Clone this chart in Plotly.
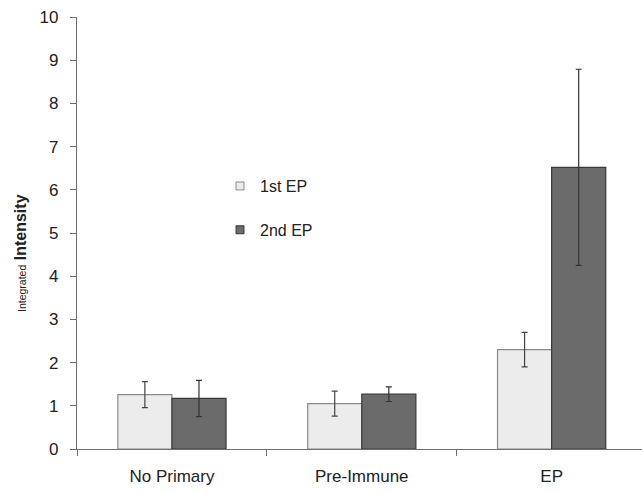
import plotly.graph_objects as go

categories = ["No Primary", "Pre-Immune", "EP"]
first_ep = [1.26, 1.05, 2.30]
first_err = [0.30, 0.29, 0.40]
second_ep = [1.17, 1.27, 6.52]
second_err = [0.42, 0.17, 2.27]
series_names = ["1st EP", "2nd EP"]
y_ticks = [0, 1, 2, 3, 4, 5, 6, 7, 8, 9, 10]

fill = ["#ececec", "#6b6b6b"]
edge = ["#8a8a8a", "#3a3a3a"]

fig = go.Figure()
fig.add_trace(go.Bar(
    x=categories, y=first_ep, name=series_names[0], showlegend=False,
    marker=dict(color=fill[0], line=dict(color=edge[0], width=1.2)),
    error_y=dict(type="data", array=first_err, color="#444444", thickness=1.2, width=3),
))
fig.add_trace(go.Bar(
    x=categories, y=second_ep, name=series_names[1], showlegend=False,
    marker=dict(color=fill[1], line=dict(color=edge[1], width=1.2)),
    error_y=dict(type="data", array=second_err, color="#333333", thickness=1.2, width=3),
))
# legend entries with small square symbols
for i, nm in enumerate(series_names):
    fig.add_trace(go.Scatter(
        x=[None], y=[None], mode="markers", name=nm, legendgroup=nm,
        marker=dict(symbol="square", size=8, color=fill[i], line=dict(color=edge[i], width=1)),
    ))

pw = 642 - 77
ph = 493 - 17 - 44

fig.update_layout(
    width=642, height=493,
    margin=dict(l=77, r=0, t=17, b=44),
    plot_bgcolor="white", paper_bgcolor="white",
    barmode="group", bargap=0.43, bargroupgap=0,
    font=dict(family="Liberation Sans, Arial, sans-serif", color="#222222"),
    showlegend=True,
    legend=dict(x=(220 - 77) / pw, y=0.648, xanchor="left", yanchor="top",
                font=dict(size=16, color="#222222"), tracegroupgap=20,
                bgcolor="rgba(0,0,0,0)", itemwidth=30),
    xaxis=dict(range=[-0.5, 2.476], showline=True, linecolor="#6f6f6f", linewidth=1.3,
               ticks="outside", tickson="boundaries", ticklen=6, tickcolor="#6f6f6f",
               ticklabelstandoff=11,
               tickfont=dict(size=17), showgrid=False, zeroline=False),
    yaxis=dict(range=[0, 10], tickvals=y_ticks, showline=True, linecolor="#6f6f6f", linewidth=1.3,
               ticks="outside", ticklen=6, tickcolor="#6f6f6f",
               ticklabelstandoff=8,
               tickfont=dict(size=17), showgrid=False, zeroline=False),
    annotations=[dict(
        text="<span style='font-size:10.5px'>Integrated</span> <b>Intensity</b>",
        x=(20 - 77) / pw, y=(493 - 44 - 253) / ph, xref="paper", yref="paper",
        xanchor="center", yanchor="middle", showarrow=False,
        textangle=-90, font=dict(size=16, color="#222222"),
    )],
)

fig.write_html("out.html")
